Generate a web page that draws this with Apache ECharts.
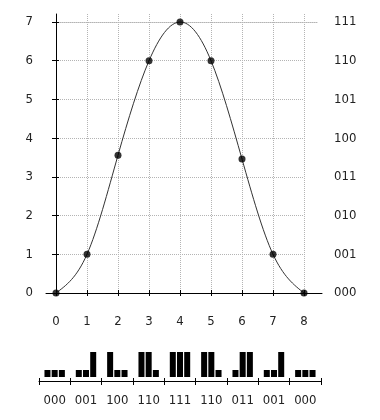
<!DOCTYPE html>
<html><head><meta charset="utf-8">
<script src="https://cdn.jsdelivr.net/npm/echarts@6/dist/echarts.min.js"></script>
<style>html,body{margin:0;padding:0;background:#fff}#c{width:380px;height:420px}</style>
</head><body><div id="c"></div>
<script>
const xValues = [0, 1, 2, 3, 4, 5, 6, 7, 8];
const yValues = [0, 1, 3.56, 6, 7, 6, 3.46, 1, 0];
const leftTicks = ['0', '1', '2', '3', '4', '5', '6', '7'];
const rightTicks = ['000', '001', '010', '011', '100', '101', '110', '111'];
const codes = ['000', '001', '100', '110', '111', '110', '011', '001', '000'];

const FONT = '"Liberation Sans Narrow","DejaVu Sans Condensed","Liberation Sans",sans-serif';
const TXT = '#222';
const GRIDC = '#b4b4b4';
const SHORT = 0.28;
const bitSeries = [0, 1, 2].map(i => codes.map(c => c[i] === '1' ? 1 : SHORT));

// natural cubic spline slopes (rendering helper, computed from the data)
function splineSlopes(xs, ys) {
  const n = xs.length, h = [], M = new Array(n).fill(0);
  for (let i = 0; i < n - 1; i++) h.push(xs[i + 1] - xs[i]);
  const a = [], b = [], c = [], d = [];
  for (let i = 1; i < n - 1; i++) {
    a.push(h[i - 1]); b.push(2 * (h[i - 1] + h[i])); c.push(h[i]);
    d.push(6 * ((ys[i + 1] - ys[i]) / h[i] - (ys[i] - ys[i - 1]) / h[i - 1]));
  }
  const m = b.length, cp = [], dp = [];
  for (let i = 0; i < m; i++) {
    const den = b[i] - (i ? a[i] * cp[i - 1] : 0);
    cp.push(c[i] / den);
    dp.push((d[i] - (i ? a[i] * dp[i - 1] : 0)) / den);
  }
  for (let i = m - 1; i >= 0; i--) M[i + 1] = dp[i] - (i < m - 1 ? cp[i] * M[i + 2] : 0);
  const s = [];
  for (let i = 0; i < n - 1; i++) s.push((ys[i + 1] - ys[i]) / h[i] - h[i] * (2 * M[i] + M[i + 1]) / 6);
  s.push((ys[n - 1] - ys[n - 2]) / h[n - 2] + h[n - 2] * (M[n - 2] + 2 * M[n - 1]) / 6);
  return s;
}
const slopes = splineSlopes(xValues, yValues);

const chart = echarts.init(document.getElementById('c'), null, {renderer: 'canvas'});
const lbl = {fontFamily: FONT, fontSize: 13, color: TXT};
const none = {show: false};
const noLine = {show: false, onZero: false};
const blackLine = {show: true, onZero: false, lineStyle: {color: '#000', width: 1}};
const hid = (g) => ({gridIndex: g, type: 'value', min: 0, max: 1, show: false, axisLine: noLine});

chart.setOption({
  animation: false,
  backgroundColor: '#fff',
  grid: [
    {left: 56, top: 22, width: 248, height: 271},   // 0 main
    {left: 56, top: 14, width: 248, height: 279},   // 1 vertical grid lines & left axis
    {left: 46, top: 22, width: 276, height: 271},   // 2 extended x axis line
    {left: 56, top: 22, width: 261, height: 271},   // 3 extended top grid line
    {left: 39, top: 352, width: 282, height: 25},   // 4 glyph bars
    {left: 56, top: 290, width: 248, height: 6},    // 5 x ticks
    {left: 52, top: 22, width: 8, height: 271},     // 6 y ticks
    {left: 39, top: 378, width: 282, height: 7},    // 7 glyph ticks
    {left: 39, top: 381, width: 282, height: 4}     // 8 glyph axis line
  ],
  xAxis: [
    {gridIndex: 0, type: 'value', position: 'bottom', min: 0, max: 8, interval: 1, axisLine: noLine, axisTick: none,
     splitLine: none, axisLabel: Object.assign({margin: 22, formatter: v => String(v)}, lbl)},
    {gridIndex: 1, type: 'value', position: 'bottom', min: 0, max: 8, interval: 1, axisLine: noLine, axisTick: none, axisLabel: none,
     splitLine: {show: true, lineStyle: {color: GRIDC, type: 'dotted', width: 1}}},
    {gridIndex: 2, type: 'value', position: 'bottom', min: 0, max: 1, axisLine: blackLine,
     axisTick: none, axisLabel: none, splitLine: none},
    {gridIndex: 3, type: 'value', position: 'top', min: 0, max: 1,
     axisLine: {show: true, onZero: false, lineStyle: {color: GRIDC, type: 'dotted'}}, axisTick: none, axisLabel: none, splitLine: none},
    {gridIndex: 4, type: 'category', position: 'bottom', data: codes,
     axisLine: noLine, axisTick: none,
     axisLabel: Object.assign({margin: 17}, lbl), splitLine: none},
    {gridIndex: 5, type: 'value', position: 'top', min: 0, max: 8, interval: 1, axisLine: noLine,
     axisTick: {show: true, inside: true, length: 6, lineStyle: {color: '#000'}}, axisLabel: none, splitLine: none},
    {gridIndex: 6, type: 'value', min: 0, max: 1, show: false, axisLine: noLine},
    {gridIndex: 7, type: 'category', position: 'top', data: codes, axisLine: noLine,
     axisTick: {show: true, inside: true, length: 7, lineStyle: {color: '#000'}}, axisLabel: none, splitLine: none},
    {gridIndex: 8, type: 'value', position: 'top', min: 0, max: 1, axisLine: blackLine,
     axisTick: none, axisLabel: none, splitLine: none}
  ],
  yAxis: [
    {gridIndex: 0, type: 'value', position: 'left', min: 0, max: 7, interval: 1, axisLine: noLine, axisTick: none,
     axisLabel: Object.assign({margin: 23, formatter: v => leftTicks[v]}, lbl),
     splitLine: {show: true, lineStyle: {color: GRIDC, type: 'dotted', width: 1}}},
    {gridIndex: 0, type: 'value', position: 'right', min: 0, max: 7, interval: 1, axisLine: noLine, axisTick: none,
     splitLine: none,
     axisLabel: Object.assign({margin: 30, padding: [0, 0, 10, 0], formatter: v => rightTicks[v]}, lbl)},
    {gridIndex: 1, type: 'value', position: 'left', min: 0, max: 1, axisLine: blackLine,
     axisTick: none, axisLabel: none, splitLine: none},
    hid(2), hid(3), hid(4), hid(5),
    {gridIndex: 6, type: 'value', position: 'left', min: 0, max: 7, interval: 1, axisLine: noLine,
     axisTick: {show: true, inside: true, length: 7, lineStyle: {color: '#000'}}, axisLabel: none, splitLine: none},
    hid(7), hid(8)
  ],
  series: [
    {type: 'custom', xAxisIndex: 0, yAxisIndex: 0, z: 4,
     data: xValues.map((x, i) => [x, yValues[i], slopes[i]]),
     renderItem: function (params, api) {
       const i = params.dataIndex;
       if (i >= xValues.length - 1) return null;
       const x0 = xValues[i], x1 = xValues[i + 1], y0 = yValues[i], y1 = yValues[i + 1];
       const h = (x1 - x0) / 3;
       const p0 = api.coord([x0, y0]), p1 = api.coord([x1, y1]);
       const c0 = api.coord([x0 + h, y0 + slopes[i] * h]);
       const c1 = api.coord([x1 - h, y1 - slopes[i + 1] * h]);
       return {type: 'bezierCurve',
         shape: {x1: p0[0], y1: p0[1], x2: p1[0], y2: p1[1], cpx1: c0[0], cpy1: c0[1], cpx2: c1[0], cpy2: c1[1]},
         style: {stroke: '#333', lineWidth: 1, fill: null}};
     }},
    {type: 'scatter', xAxisIndex: 0, yAxisIndex: 0, z: 5,
     data: xValues.map((x, i) => [x, yValues[i]]),
     symbol: 'circle', symbolSize: 7, itemStyle: {color: '#000'}}
  ].concat(bitSeries.map(d => ({
     type: 'bar', xAxisIndex: 4, yAxisIndex: 5, data: d, barWidth: 6, barGap: '20%',
     itemStyle: {color: '#000'}
  })))
});
</script></body></html>
